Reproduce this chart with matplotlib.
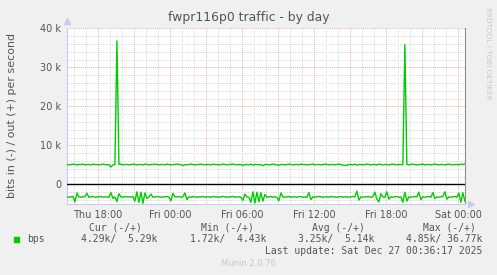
import numpy as np
import matplotlib
matplotlib.use("Agg")
import matplotlib.pyplot as plt

# 10-minute samples, hours counted from Thu 00:00
t_start = 15.4
t_step = 1.0 / 6.0

# out (+) in kbit/s
bps_out = [
    5.1, 5.0, 5.1, 5.2, 5.1, 5.0, 5.1, 5.1, 5.2, 5.0,
    5.1, 5.1, 5.0, 5.2, 5.1, 5.1, 5.0, 5.1, 5.2, 5.1,
    5.0, 5.1, 4.43, 5.0, 5.1, 36.77, 5.1, 5.2, 5.0, 5.1,
    5.1, 5.0, 5.1, 5.2, 5.1, 5.0, 5.1, 5.1, 5.0, 5.2,
    5.1, 5.0, 5.1, 5.1, 5.2, 5.1, 5.0, 5.1, 5.1, 5.0,
    5.2, 5.1, 5.0, 5.1, 5.1, 5.2, 5.1, 5.1, 4.8, 5.1,
    5.0, 5.1, 5.2, 5.1, 5.0, 5.1, 5.1, 5.2, 5.1, 5.0,
    5.1, 5.1, 5.0, 5.2, 5.1, 5.1, 5.0, 5.1, 5.2, 5.1,
    5.0, 5.1, 5.1, 5.2, 5.1, 5.0, 5.1, 5.1, 4.8, 5.1,
    5.1, 5.0, 5.2, 4.9, 5.1, 5.1, 5.0, 5.1, 4.8, 5.1,
    5.1, 5.0, 5.1, 5.2, 5.1, 5.0, 4.9, 5.1, 5.1, 5.0,
    5.1, 5.2, 5.1, 5.0, 5.1, 5.1, 5.0, 5.2, 5.1, 5.1,
    5.0, 5.1, 5.1, 5.2, 5.0, 5.1, 5.1, 5.0, 5.1, 5.2,
    5.1, 5.0, 5.1, 5.1, 5.0, 5.1, 5.2, 5.1, 4.9, 4.9,
    4.9, 5.1, 5.1, 5.0, 5.2, 4.9, 5.1, 5.1, 5.0, 5.1,
    5.2, 5.1, 5.0, 5.1, 5.1, 5.0, 5.2, 5.1, 5.0, 5.1,
    5.1, 5.0, 5.1, 5.2, 5.1, 5.0, 5.1, 5.1, 5.0, 35.8,
    5.1, 5.0, 5.1, 5.2, 5.1, 5.0, 5.1, 5.1, 5.2, 5.0,
    5.1, 5.1, 5.0, 5.1, 5.2, 5.1, 5.0, 5.1, 5.1, 5.0,
    5.1, 5.2, 5.1, 5.0, 5.1, 5.1, 5.0, 5.2, 5.1, 5.29,
]

# in (-) in kbit/s, drawn below zero
bps_in = [
    3.2, 3.3, 3.2, 3.1, 4.5, 2.2, 3.2, 3.3, 3.2, 3.1,
    2.3, 3.3, 3.2, 3.1, 3.3, 3.2, 3.2, 3.1, 3.3, 3.2,
    3.2, 3.3, 2.1, 3.6, 3.2, 4.4, 2.4, 3.2, 3.3, 3.1,
    3.2, 3.2, 3.3, 3.1, 4.3, 1.9, 4.6, 2.0, 4.85, 2.2,
    3.6, 3.2, 2.5, 3.3, 3.2, 3.1, 3.2, 3.3, 3.2, 3.2,
    3.1, 3.3, 4.2, 2.3, 3.2, 3.2, 3.1, 3.3, 3.2, 2.2,
    3.9, 3.2, 3.3, 3.1, 3.2, 3.3, 3.2, 3.2, 3.1, 3.3,
    3.2, 3.2, 3.3, 3.1, 3.2, 3.2, 3.3, 3.2, 3.1, 3.2,
    3.3, 3.2, 3.2, 3.1, 3.3, 3.2, 3.2, 3.3, 4.1, 2.5,
    3.2, 3.3, 4.6, 1.9, 4.8, 2.0, 4.5, 2.1, 4.3, 2.6,
    3.3, 3.2, 3.1, 3.3, 3.2, 3.3, 4.2, 2.2, 3.2, 3.3,
    3.2, 3.1, 3.3, 3.2, 3.2, 3.3, 3.1, 3.2, 3.3, 3.2,
    3.3, 2.1, 3.9, 3.2, 3.3, 3.2, 3.1, 3.2, 3.3, 3.2,
    3.2, 3.3, 3.1, 3.2, 3.2, 3.3, 3.2, 3.1, 3.3, 3.2,
    3.2, 3.3, 3.2, 3.1, 3.2, 1.72, 4.0, 3.2, 3.3, 3.2,
    3.2, 3.1, 3.3, 3.2, 2.0, 3.8, 4.5, 2.4, 3.2, 3.3,
    1.9, 3.8, 3.2, 3.3, 3.2, 3.1, 3.3, 3.2, 4.6, 2.0,
    4.3, 3.2, 3.3, 3.2, 3.1, 3.2, 2.0, 3.9, 3.2, 3.3,
    3.2, 3.1, 3.3, 2.1, 3.6, 3.2, 3.3, 3.2, 3.1, 1.9,
    3.8, 3.2, 3.3, 3.2, 3.1, 3.3, 2.2, 4.6, 2.1, 4.29,
]

tick_hours = [18, 24, 30, 36, 42, 48]
tick_labels = ["Thu 18:00", "Fri 00:00", "Fri 06:00", "Fri 12:00", "Fri 18:00", "Sat 00:00"]
ytick_vals = [0, 10000, 20000, 30000, 40000]
ytick_labels = ["0", "10 k", "20 k", "30 k", "40 k"]

headers = ["Cur (-/+)", "Min (-/+)", "Avg (-/+)", "Max (-/+)"]
values = ["4.29k/  5.29k", "1.72k/  4.43k", "3.25k/  5.14k", "4.85k/ 36.77k"]

W, H = 497, 275
fig = plt.figure(figsize=(W / 100, H / 100), dpi=100, facecolor="#f0f0f0")
x0, x1, y0, y1 = 66.7, 465, 28.3, 203.5
ax = fig.add_axes([x0 / W, 1 - y1 / H, (x1 - x0) / W, (y1 - y0) / H])
ax.set_facecolor("white")

t = t_start + np.arange(len(bps_out)) * t_step
out_v = np.array(bps_out) * 1000
in_v = -np.array(bps_in) * 1000

ax.set_xlim(15.38, 48.58)
ax.set_ylim(-4900, 40000)

# grid: grey every hour / 2k, red every 3 h / 10k
for h in range(16, 49):
    col = "#e8b0b0" if h % 3 == 0 else "#d8d8d8"
    ax.axvline(h, color=col, lw=0.7, ls=(0, (1, 1)), zorder=1)
for v in range(-4000, 40001, 2000):
    col = "#e8b0b0" if v % 10000 == 0 else "#d8d8d8"
    ax.axhline(v, color=col, lw=0.7, ls=(0, (1, 1)), zorder=1)

ax.axhline(0, color="black", lw=1.0, zorder=3)
ax.plot(t, out_v, color="#00cc00", lw=1.0, zorder=4)
ax.plot(t, in_v, color="#00cc00", lw=1.0, zorder=4)

ax.set_xticks(tick_hours)
ax.set_xticklabels(tick_labels)
ax.set_yticks(ytick_vals)
ax.set_yticklabels(ytick_labels)
ax.tick_params(length=0, labelsize=7, colors="#555555", pad=4)
ax.tick_params(axis="x", pad=5)

ax.spines["top"].set_visible(False)
ax.spines["left"].set_color("#c8ccf0")
ax.spines["bottom"].set_color("#c8ccf0")
ax.spines["right"].set_color("#909090")
for s in ax.spines.values():
    s.set_linewidth(0.8)

# axis arrows
ax.plot([0], [1.04], marker="^", ms=4, color="#c8ccf0", transform=ax.transAxes, clip_on=False)
ax.plot([1.015], [0], marker=">", ms=4, color="#c8ccf0", transform=ax.transAxes, clip_on=False)

fig.text(0.500, 1 - 17 / H, "fwpr116p0 traffic - by day", ha="center", va="center",
         fontsize=8.9, color="#555555")
fig.text(12 / W, 1 - 115.8 / H, "bits in (-) / out (+) per second", rotation=90,
         ha="center", va="center", fontsize=7.9, color="#555555")
fig.text(488 / W, 1 - 53 / H, "RRDTOOL / TOBI OETIKER", rotation=270,
         ha="center", va="center", fontsize=5.2, color="#c8c8c8")

mono = "DejaVu Sans Mono"
hx = [89.3, 200.7, 312.3, 422.7]
vx = [157.7, 266.7, 374.3, 482.3]
for x, s in zip(hx, headers):
    fig.text(x / W, 1 - 227.7 / H, s, ha="left", va="center", family=mono, fontsize=7, color="#555555")
for x, s in zip(vx, values):
    fig.text(x / W, 1 - 239.3 / H, s, ha="right", va="center", family=mono, fontsize=7, color="#555555")
fig.patches.append(plt.Rectangle((14 / W, 1 - 242 / H), 5.3 / W, 5.3 / H, transform=fig.transFigure,
                                 color="#00cc00", figure=fig))
fig.text(26.7 / W, 1 - 239.3 / H, "bps", ha="left", va="center", family=mono, fontsize=7, color="#555555")
fig.text(482.3 / W, 1 - 251 / H, "Last update: Sat Dec 27 00:36:17 2025", ha="right", va="center",
         family=mono, fontsize=7, color="#555555")
fig.text(248 / W, 1 - 264 / H, "Munin 2.0.76", ha="center", va="center", fontsize=6, color="#c8c8c8")

fig.savefig("out.png", dpi=100, facecolor=fig.get_facecolor())
